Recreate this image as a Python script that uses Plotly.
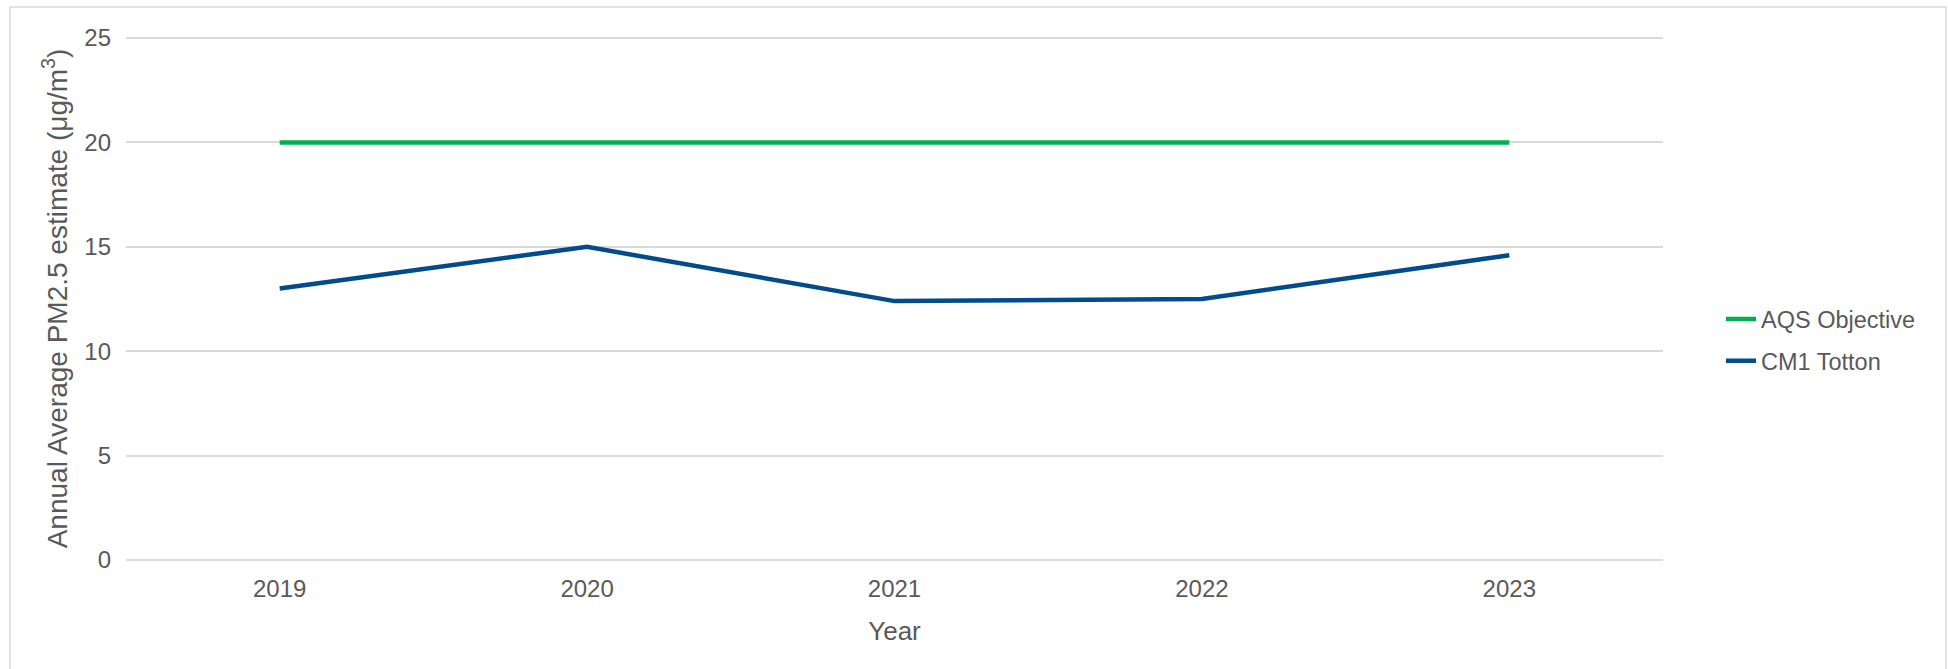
import plotly.graph_objects as go

# Annual mean PM2.5 at the Totton monitoring site against the AQS objective
years = ["2019", "2020", "2021", "2022", "2023"]
aqs_objective = [20, 20, 20, 20, 20]
cm1_totton = [13.0, 15.0, 12.4, 12.5, 14.6]

y_ticks = [0, 5, 10, 15, 20, 25]

W, H = 1948, 669
L, R, T, B = 126, 285, 37, 109
FONT = "Liberation Sans, Arial, sans-serif"
TEXT = "#595959"
GRID = "#d9d9d9"

fig = go.Figure()
fig.add_trace(go.Scatter(
    x=years, y=aqs_objective, name="AQS Objective", mode="lines",
    legendgroup="aqs",
    line=dict(color="#00B050", width=4.5),
))
fig.add_trace(go.Scatter(
    x=years, y=cm1_totton, name="CM1 Totton", mode="lines",
    legendgroup="cm1",
    line=dict(color="#034C8C", width=4.5),
))

pw, ph = W - L - R, H - T - B
# light frame around the whole chart
fig.add_shape(
    type="rect", xref="paper", yref="paper",
    x0=(10 - L) / pw, x1=(1946 - L) / pw,
    y0=(H - B - 700) / ph, y1=(H - B - 7) / ph,
    line=dict(color=GRID, width=1.5), fillcolor="rgba(0,0,0,0)", layer="below",
)

fig.update_layout(
    width=W, height=H,
    margin=dict(l=L, r=R, t=T, b=B, autoexpand=False),
    paper_bgcolor="white", plot_bgcolor="white",
    font=dict(family=FONT, color=TEXT, size=24),
    showlegend=True,
    legend=dict(
        x=1.0 + 58 / pw, xanchor="left", y=0.42, yanchor="middle",
        font=dict(size=23.5, color=TEXT), bgcolor="rgba(0,0,0,0)",
        itemwidth=30, tracegroupgap=8,
    ),
    xaxis=dict(
        type="category", range=[-0.5, 4.5],
        showgrid=False, showline=False, zeroline=False, ticks="",
        ticklabelstandoff=12,
        tickfont=dict(size=24, color=TEXT),
        title=dict(text="Year", font=dict(size=26, color=TEXT), standoff=20),
        automargin=False,
    ),
    yaxis=dict(
        range=[0, 25.05], tickvals=y_ticks,
        showgrid=True, gridcolor=GRID, gridwidth=1.5,
        showline=False, zeroline=True, zerolinecolor=GRID, zerolinewidth=1.5,
        ticks="",
        ticklabelstandoff=14,
        tickfont=dict(size=24, color=TEXT),
        title=dict(text="Annual Average PM2.5 estimate (μg/m<sup>3</sup>)",
                   font=dict(size=28, color=TEXT), standoff=8),
        automargin=False,
    ),
)

fig.write_html("out.html")
